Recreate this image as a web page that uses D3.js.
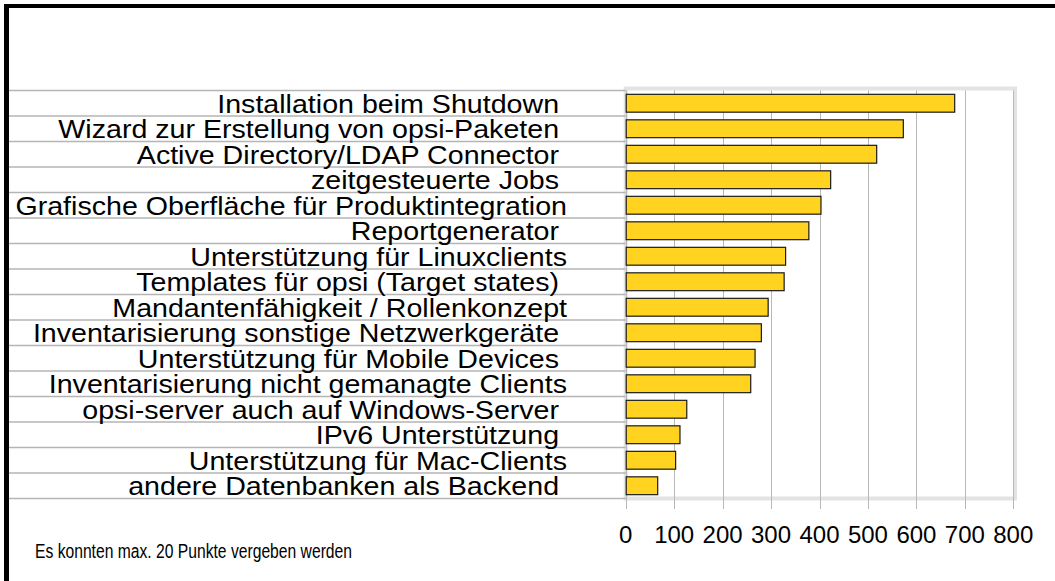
<!DOCTYPE html>
<html>
<head>
<meta charset="utf-8">
<script src="https://cdn.jsdelivr.net/npm/d3@7"></script>
<style>
  body { margin: 0; background: #fff; }
  svg text { font-family: "Liberation Sans", Arial, sans-serif; fill: #000; white-space: pre; }
</style>
</head>
<body>
<svg id="chart" width="1055" height="581"></svg>
<script>
// categories (top to bottom), some carry a trailing space like the original
const categories = [
  'Installation beim Shutdown ',
  'Wizard zur Erstellung von opsi-Paketen ',
  'Active Directory/LDAP Connector ',
  'zeitgesteuerte Jobs ',
  'Grafische Oberfläche für Produktintegration',
  'Reportgenerator ',
  'Unterstützung für Linuxclients',
  'Templates für opsi (Target states) ',
  'Mandantenfähigkeit / Rollenkonzept',
  'Inventarisierung sonstige Netzwerkgeräte ',
  'Unterstützung für Mobile Devices ',
  'Inventarisierung nicht gemanagte Clients',
  'opsi-server auch auf Windows-Server ',
  'IPv6 Unterstützung ',
  'Unterstützung für Mac-Clients',
  'andere Datenbanken als Backend '
];
const values = [678, 572, 517, 422, 402, 377, 329, 326, 293, 279, 266, 257, 125, 111, 102, 65];
const xTicks = [0, 100, 200, 300, 400, 500, 600, 700, 800];
const note = 'Es konnten max. 20 Punkte vergeben werden';

const svg = d3.select('#chart');
const data = categories.map((c, i) => ({ cat: c, val: values[i] }));

const x = d3.scaleLinear().domain([0, 800]).range([625.7, 1013.3]);
const y = d3.scaleBand().domain(categories).range([90.5, 498.5])
  .paddingInner(0.3).paddingOuter(0.15);
const step = y.step();

// outer black frame lines (top + left)
svg.append('rect').attr('x', 4).attr('y', 4).attr('width', 1051).attr('height', 4).attr('fill', '#000');
svg.append('rect').attr('x', 4).attr('y', 4).attr('width', 5).attr('height', 577).attr('fill', '#000');

// light plot frame
svg.append('rect')
  .attr('x', x(0)).attr('y', 88.5)
  .attr('width', x(800) + 1.7 - x(0)).attr('height', 498.5 - 88.5)
  .attr('fill', 'none').attr('stroke', '#e3e3e3').attr('stroke-width', 4);

// grid + ticks
svg.append('g').selectAll('line')
  .data(xTicks)
  .enter().append('line')
    .attr('x1', d => Math.round(x(d)) + 0.5).attr('x2', d => Math.round(x(d)) + 0.5)
    .attr('y1', 90.5).attr('y2', 509)
    .attr('stroke', '#b8b8b8').attr('stroke-width', 1);

// row separators reaching into the label area
const bounds = categories.map(c => y(c) - step * 0.15).concat([y.range()[1]]);
svg.append('g').selectAll('line')
  .data(bounds)
  .enter().append('line')
    .attr('x1', 9).attr('x2', x(0))
    .attr('y1', d => d).attr('y2', d => d)
    .attr('stroke', '#b5b5b5').attr('stroke-width', 1.5);

// bars
svg.append('g').selectAll('rect')
  .data(data)
  .enter().append('rect')
    .attr('x', x(0) + 0.5)
    .attr('y', d => y(d.cat))
    .attr('width', d => x(d.val) - x(0))
    .attr('height', y.bandwidth())
    .attr('fill', '#ffd320')
    .attr('stroke', '#1a1a1a').attr('stroke-width', 1.2);

// category labels (slightly wide, like the exported original)
svg.append('g')
    .attr('transform', 'translate(567,0) scale(1.1,1)')
  .selectAll('text')
  .data(data)
  .enter().append('text')
    .attr('x', 0)
    .attr('y', d => y(d.cat) - step * 0.15 + step - 3)
    .attr('text-anchor', 'end')
    .attr('font-size', 26)
    .text(d => d.cat);

// x tick labels
svg.append('g').selectAll('text')
  .data(xTicks)
  .enter().append('text')
    .attr('x', d => x(d))
    .attr('y', 543)
    .attr('text-anchor', 'middle')
    .attr('font-size', 24)
    .text(d => d);

// footnote
svg.append('text')
  .attr('x', 35).attr('y', 558)
  .attr('font-size', 20)
  .attr('textLength', 317)
  .attr('lengthAdjust', 'spacingAndGlyphs')
  .text(note);
</script>
</body>
</html>
